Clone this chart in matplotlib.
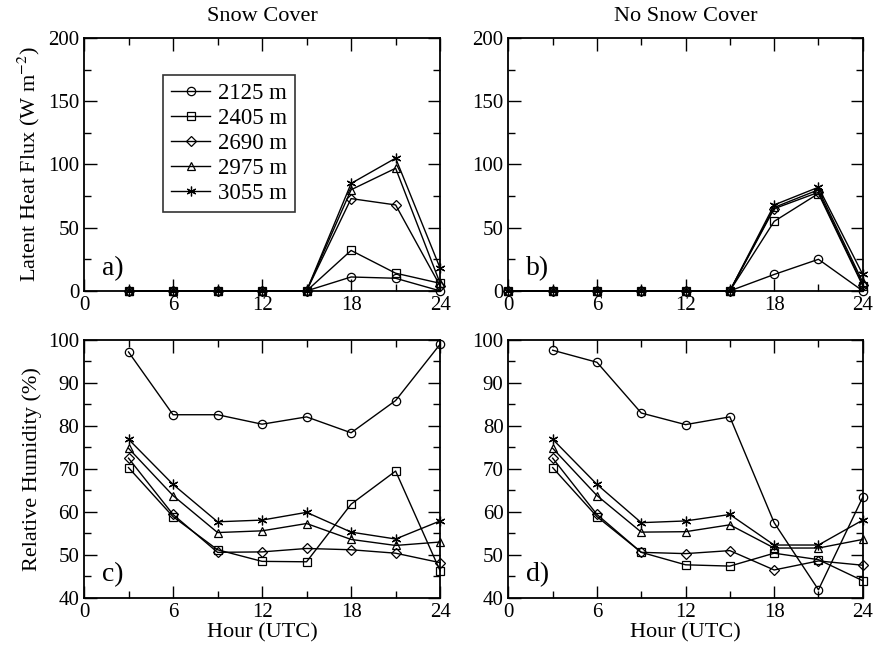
import matplotlib

matplotlib.use("Agg")
import matplotlib.pyplot as plt
from matplotlib.ticker import MultipleLocator

plt.rcParams["font.family"] = ["Liberation Serif", "DejaVu Serif"]
plt.rcParams["mathtext.fontset"] = "stix"

labels = ["2125 m", "2405 m", "2690 m", "2975 m", "3055 m"]
markers = ["o", "s", "D", "^", (6, 2, 0)]
marker_sizes = [6, 5.5, 5, 6, 7]

hours_rh = [3, 6, 9, 12, 15, 18, 21, 24]
hours_lh_snow = [3, 6, 9, 12, 15, 18, 21, 24]
hours_lh_nosnow = [0, 3, 6, 9, 12, 15, 18, 21, 24]

# latent heat flux, snow cover
lh_snow = [
    [0, 0, 0, 0, 0, 11, 10, 0],
    [0, 0, 0, 0, 0, 32, 14, 6],
    [0, 0, 0, 0, 0, 73, 68, 4],
    [0, 0, 0, 0, 0, 80, 97, 6],
    [0, 0, 0, 0, 0, 85, 105, 18],
]
# latent heat flux, no snow cover
lh_nosnow = [
    [0, 0, 0, 0, 0, 0, 13, 25, 0],
    [0, 0, 0, 0, 0, 0, 55, 77, 4],
    [0, 0, 0, 0, 0, 0, 65, 78, 5],
    [0, 0, 0, 0, 0, 0, 66, 80, 7],
    [0, 0, 0, 0, 0, 0, 68, 82, 13],
]
# relative humidity, snow cover
rh_snow = [
    [97.2, 82.6, 82.6, 80.4, 82.1, 78.4, 85.9, 99.0],
    [70.3, 58.9, 51.2, 48.5, 48.4, 61.8, 69.5, 46.3],
    [72.5, 59.4, 50.6, 50.7, 51.5, 51.2, 50.4, 48.2],
    [74.8, 63.8, 55.2, 55.6, 57.3, 53.6, 52.2, 53.0],
    [76.9, 66.4, 57.7, 58.1, 59.9, 55.3, 53.7, 57.9],
]
# relative humidity, no snow cover
rh_nosnow = [
    [97.6, 94.8, 83.0, 80.3, 82.1, 57.5, 41.9, 63.4],
    [70.3, 58.9, 50.6, 47.7, 47.4, 50.4, 48.9, 44.0],
    [72.5, 59.4, 50.6, 50.3, 51.0, 46.5, 48.6, 47.6],
    [74.8, 63.8, 55.3, 55.4, 57.0, 51.6, 51.6, 53.6],
    [76.9, 66.4, 57.5, 57.9, 59.4, 52.3, 52.3, 58.1],
]


def draw(axis, hours, series):
    for values, marker, size, label in zip(series, markers, marker_sizes, labels):
        axis.plot(hours, values, color="black", linewidth=1.0, marker=marker,
                  markersize=size, markerfacecolor="none", markeredgecolor="black",
                  markeredgewidth=0.9, label=label, clip_on=False)


def style(axis, top):
    axis.set_xlim(0, 24)
    axis.xaxis.set_major_locator(MultipleLocator(6))
    axis.xaxis.set_minor_locator(MultipleLocator(3))
    if top:
        axis.set_ylim(0, 200)
        axis.yaxis.set_major_locator(MultipleLocator(50))
        axis.yaxis.set_minor_locator(MultipleLocator(25))
    else:
        axis.set_ylim(40, 100)
        axis.yaxis.set_major_locator(MultipleLocator(10))
        axis.yaxis.set_minor_locator(MultipleLocator(5))
    axis.tick_params(which="both", direction="in", top=True, right=True, labelsize=15)
    axis.tick_params(which="major", length=9, width=1.0)
    axis.tick_params(which="minor", length=5, width=1.0)
    for spine in axis.spines.values():
        spine.set_linewidth(1.3)


figure = plt.figure(figsize=(8.75, 6.45), dpi=100)
ax_a = figure.add_axes([0.096, 0.549, 0.407, 0.392])
ax_b = figure.add_axes([0.581, 0.549, 0.405, 0.392])
ax_c = figure.add_axes([0.096, 0.073, 0.407, 0.4])
ax_d = figure.add_axes([0.581, 0.073, 0.405, 0.4])

draw(ax_a, hours_lh_snow, lh_snow)
draw(ax_b, hours_lh_nosnow, lh_nosnow)
draw(ax_c, hours_rh, rh_snow)
draw(ax_d, hours_rh, rh_nosnow)

for axis, top, tag in [(ax_a, True, "a)"), (ax_b, True, "b)"), (ax_c, False, "c)"), (ax_d, False, "d)")]:
    style(axis, top)
    axis.text(0.05, 0.04, tag, transform=axis.transAxes, fontsize=20, ha="left", va="bottom")

ax_a.set_title("Snow Cover", fontsize=16, pad=12)
ax_b.set_title("No Snow Cover", fontsize=16, pad=12)
ax_a.set_ylabel("Latent Heat Flux (W m$^{-2}$)", fontsize=16)
ax_c.set_ylabel("Relative Humidity (%)", fontsize=16)
ax_c.set_xlabel("Hour (UTC)", fontsize=16, labelpad=1)
ax_d.set_xlabel("Hour (UTC)", fontsize=16, labelpad=1)

legend = ax_a.legend(loc="upper left", bbox_to_anchor=(0.222, 0.854), borderaxespad=0,
                     fontsize=16.5, frameon=True, fancybox=False, edgecolor="black",
                     handlelength=1.7, handletextpad=0.35, borderpad=0.35, labelspacing=0.17)
legend.get_frame().set_linewidth(1.2)

figure.savefig("out.png")
plt.close(figure)
